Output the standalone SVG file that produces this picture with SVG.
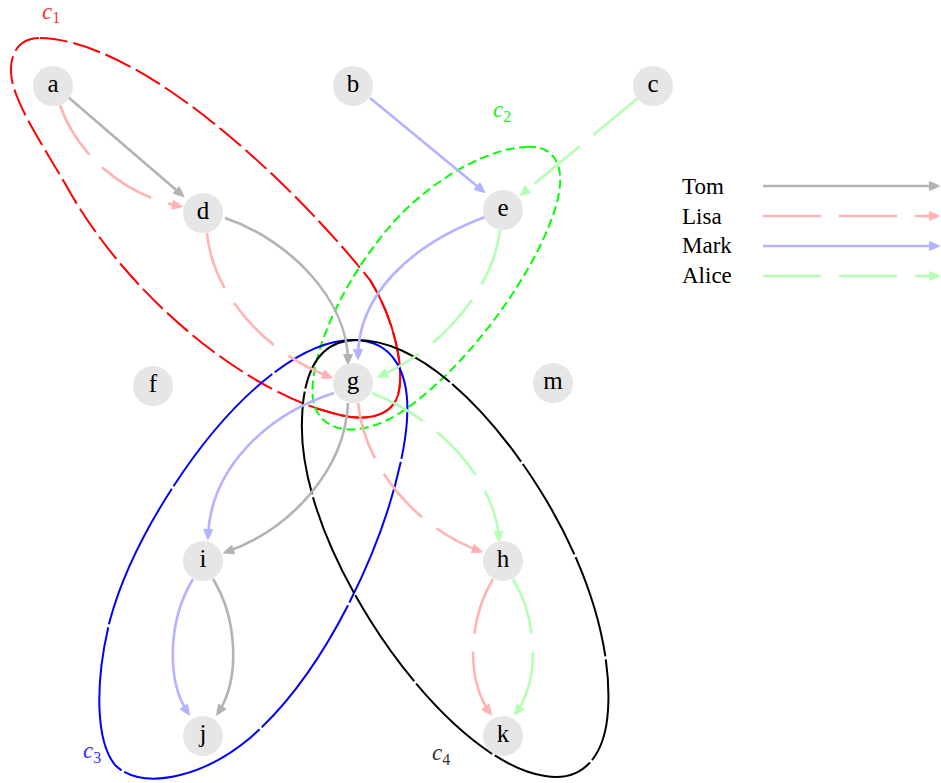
<svg xmlns="http://www.w3.org/2000/svg" width="941" height="783" viewBox="0 0 941 783">
<style>
.node circle{fill:#e6e6e6;stroke:none}
.node text{font-family:"Liberation Serif",serif;font-size:25px;text-anchor:middle;fill:#000}
.e{fill:none;stroke-width:2.6}
.tom{stroke:#b3b3b3}
.lisa{stroke:#ffb3b3;stroke-dasharray:58 18}
.mark{stroke:#b3b3ff}
.alice{stroke:#b3ffb3;stroke-dasharray:58 18}
.cl{fill:none;stroke-width:2}
.clab{font-family:"Liberation Serif",serif;font-size:23px;font-style:italic}
.sub{font-style:normal;font-size:16px}
.leg{font-family:"Liberation Serif",serif;font-size:23px;fill:#000}
</style>
<defs>
<marker id="ag" markerUnits="userSpaceOnUse" markerWidth="14" markerHeight="12" viewBox="0 -6 12 12" refX="8" refY="0" orient="auto"><path d="M0,-5 Q6,-3 11.5,0 Q6,3 0,5 Z" fill="#b3b3b3"/></marker>
<marker id="ar" markerUnits="userSpaceOnUse" markerWidth="14" markerHeight="12" viewBox="0 -6 12 12" refX="8" refY="0" orient="auto"><path d="M0,-5 Q6,-3 11.5,0 Q6,3 0,5 Z" fill="#ffb3b3"/></marker>
<marker id="ab" markerUnits="userSpaceOnUse" markerWidth="14" markerHeight="12" viewBox="0 -6 12 12" refX="8" refY="0" orient="auto"><path d="M0,-5 Q6,-3 11.5,0 Q6,3 0,5 Z" fill="#b3b3ff"/></marker>
<marker id="an" markerUnits="userSpaceOnUse" markerWidth="14" markerHeight="12" viewBox="0 -6 12 12" refX="8" refY="0" orient="auto"><path d="M0,-5 Q6,-3 11.5,0 Q6,3 0,5 Z" fill="#b3ffb3"/></marker>
</defs>
<rect width="941" height="783" fill="#fff"/>
<g id="clusters">
<g id="c1">
<path class="cl" stroke="#ff0000" stroke-dasharray="28 6" d="M40,38 C140,40 290,180 370,280 C395,320 405,370 398,395 C390,420 360,420 340,415 C250,395 130,300 67,187 C40,140 12,100 11,72 C10,50 22,38 40,38 Z"/>
<path class="cl" stroke="#ff0000" d="M370,280 C395,320 405,370 398,395 C390,420 360,420 340,415 L315,408"/>
<text class="clab" x="42" y="19" fill="#ff3333">c<tspan class="sub" dy="4">1</tspan></text>
</g>
<g id="c2">
<path class="cl" stroke="#00ff00" stroke-dasharray="9 4.5" d="M527,147 C550,145 562,160 560,185 C556,240 480,360 400,413 C360,438 320,435 313,400 C308,360 340,280 400,215 C440,175 490,148 527,147 Z"/>
<text class="clab" x="493" y="117" fill="#22ee22">c<tspan class="sub" dy="5">2</tspan></text>
</g>
<g id="c3">
<path class="cl" stroke="#0000ff" stroke-dasharray="150 3" d="M353,340 C395,340 410,375 407,420 C402,500 340,660 250,738 C200,780 140,790 115,765 C95,740 95,680 110,620 C140,510 260,340 353,340 Z"/>
<text class="clab" x="83" y="758" fill="#3333ff">c<tspan class="sub" dy="5">3</tspan></text>
</g>
<g id="c4">
<path class="cl" stroke="#000000" stroke-dasharray="104 3" d="M357,340 C420,340 490,410 540,490 C590,570 612,650 608,710 C605,760 580,782 545,776 C490,768 420,700 370,620 C320,540 300,470 302,420 C303,370 320,340 357,340 Z"/>
<text class="clab" x="432" y="760" fill="#333333">c<tspan class="sub" dy="5">4</tspan></text>
</g>
</g>
<g id="edges">
<path class="e tom" marker-end="url(#ag)" d="M68,97 L182,195"/>
<path class="e tom" marker-end="url(#ag)" d="M225,218 C290,240 348,300 348,362"/>
<path class="e tom" marker-end="url(#ag)" d="M348,403 C345,470 290,530 226,552"/>
<path class="e tom" marker-end="url(#ag)" d="M213,579 C238,620 240,680 218,713"/>
<path class="e lisa" marker-end="url(#ar)" d="M60,105 C75,150 120,195 180,206"/>
<path class="e lisa" marker-end="url(#ar)" d="M207,233 C212,290 260,350 330,377"/>
<path class="e lisa" marker-end="url(#ar)" d="M358,403 C365,470 420,530 480,551"/>
<path class="e lisa" marker-end="url(#ar)" d="M493,579 C468,620 466,680 490,713"/>
<path class="e mark" marker-end="url(#ab)" d="M370,98 L483,191"/>
<path class="e mark" marker-end="url(#ab)" d="M485,217 C410,245 358,295 358,357"/>
<path class="e mark" marker-end="url(#ab)" d="M334,393 C265,415 210,470 208,537"/>
<path class="e mark" marker-end="url(#ab)" d="M193,579 C168,620 166,680 188,713"/>
<path class="e alice" marker-end="url(#an)" d="M638,98 L522,194"/>
<path class="e alice" marker-end="url(#an)" d="M500,230 C493,290 440,350 380,376"/>
<path class="e alice" marker-end="url(#an)" d="M372,393 C440,420 495,480 499,539"/>
<path class="e alice" marker-end="url(#an)" d="M513,579 C538,620 540,680 516,713"/>
</g>
<g id="legend">
<text class="leg" x="682" y="194">Tom</text>
<text class="leg" x="682" y="224">Lisa</text>
<text class="leg" x="682" y="253">Mark</text>
<text class="leg" x="682" y="283">Alice</text>
<path class="e tom" marker-end="url(#ag)" d="M763,186 L937,186"/>
<path class="e lisa" marker-end="url(#ar)" d="M763,216 L937,216"/>
<path class="e mark" marker-end="url(#ab)" d="M763,246 L937,246"/>
<path class="e alice" marker-end="url(#an)" d="M763,276 L937,276"/>
</g>
<g id="node-a" class="node"><circle cx="53" cy="86" r="20"/><text x="53" y="92">a</text></g>
<g id="node-b" class="node"><circle cx="353" cy="86" r="20"/><text x="353" y="92">b</text></g>
<g id="node-c" class="node"><circle cx="653" cy="86" r="20"/><text x="653" y="92">c</text></g>
<g id="node-d" class="node"><circle cx="203" cy="213" r="20"/><text x="203" y="219">d</text></g>
<g id="node-e" class="node"><circle cx="503" cy="210" r="20"/><text x="503" y="216">e</text></g>
<g id="node-f" class="node"><circle cx="153" cy="386" r="20"/><text x="153" y="392">f</text></g>
<g id="node-g" class="node"><circle cx="353" cy="383" r="20"/><text x="353" y="389">g</text></g>
<g id="node-m" class="node"><circle cx="553" cy="383" r="20"/><text x="553" y="389">m</text></g>
<g id="node-i" class="node"><circle cx="203" cy="561" r="20"/><text x="203" y="567">i</text></g>
<g id="node-h" class="node"><circle cx="503" cy="561" r="20"/><text x="503" y="567">h</text></g>
<g id="node-j" class="node"><circle cx="203" cy="736" r="20"/><text x="203" y="742">j</text></g>
<g id="node-k" class="node"><circle cx="503" cy="736" r="20"/><text x="503" y="742">k</text></g>
</svg>
